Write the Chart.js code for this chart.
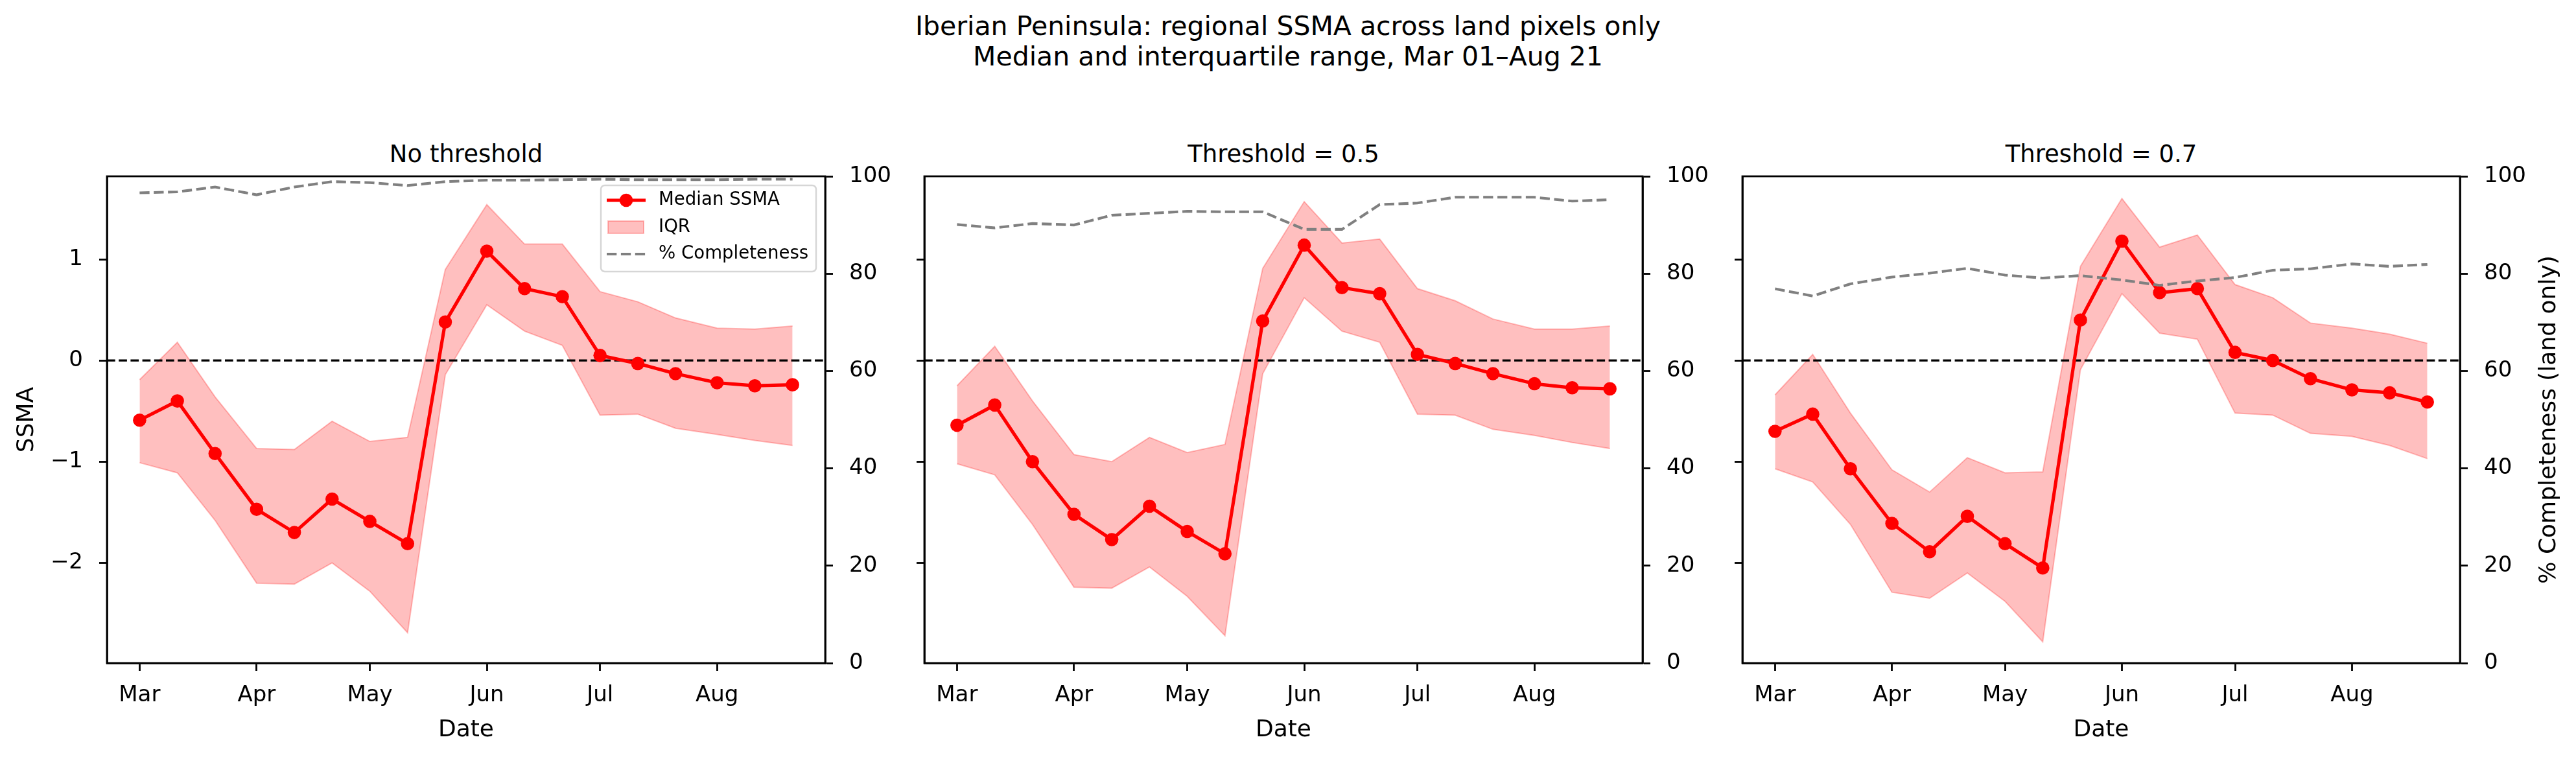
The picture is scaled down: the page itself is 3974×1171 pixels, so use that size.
<!DOCTYPE html>
<html>
<head>
<meta charset="utf-8">
<title>Iberian Peninsula SSMA</title>
<script src="https://cdn.jsdelivr.net/npm/chart.js@4.4.0/dist/chart.umd.min.js"></script>
<style>
  html, body { margin: 0; padding: 0; background: #fff; }
  body { width: 3974px; height: 1171px; position: relative; overflow: hidden; font-family: "DejaVu Sans", sans-serif; color: #000; }
  canvas { position: absolute; }
  .suptitle { position: absolute; left: 0; width: 3974px; top: 17px; text-align: center; font-size: 41px; line-height: 47px; }
  .ptitle { position: absolute; top: 216px; text-align: center; font-size: 37px; line-height: 44px; white-space: nowrap; }
</style>
</head>
<body>
<div class="suptitle">Iberian Peninsula: regional SSMA across land pixels only<br>Median and interquartile range, Mar 01–Aug 21</div>
<div class="ptitle" id="title0"></div>
<div class="ptitle" id="title1"></div>
<div class="ptitle" id="title2"></div>
<canvas id="chart0"></canvas>
<canvas id="chart1"></canvas>
<canvas id="chart2"></canvas>
<script>
// dekadal dates, Mar 01 .. Aug 21 (days counted from Mar 01)
const dateLabels = ['Mar 01', 'Mar 11', 'Mar 21', 'Apr 01', 'Apr 11', 'Apr 21', 'May 01', 'May 11', 'May 21',
                    'Jun 01', 'Jun 11', 'Jun 21', 'Jul 01', 'Jul 11', 'Jul 21', 'Aug 01', 'Aug 11', 'Aug 21'];
const days = [0, 10, 20, 31, 41, 51, 61, 71, 81, 92, 102, 112, 122, 132, 142, 153, 163, 173];

const monthTicks = [0, 31, 61, 92, 122, 153];
const monthLabels = ['Mar', 'Apr', 'May', 'Jun', 'Jul', 'Aug'];
const ssmaTicks = [-2, -1, 0, 1];
const ssmaTickLabels = ['\u22122', '\u22121', '0', '1'];
const pctTicks = [0, 20, 40, 60, 80, 100];

const panelTitles = ['No threshold', 'Threshold = 0.5', 'Threshold = 0.7'];

// No threshold
const medianNone = [-0.59, -0.40, -0.92, -1.47, -1.70, -1.37, -1.59, -1.81, 0.38, 1.08, 0.71, 0.63, 0.05, -0.03, -0.13, -0.22, -0.25, -0.24];
const q75None = [-0.19, 0.18, -0.36, -0.87, -0.88, -0.60, -0.80, -0.76, 0.90, 1.54, 1.15, 1.15, 0.68, 0.58, 0.42, 0.32, 0.31, 0.34];
const q25None = [-1.01, -1.11, -1.58, -2.20, -2.21, -2.00, -2.28, -2.69, -0.14, 0.55, 0.29, 0.15, -0.54, -0.53, -0.67, -0.73, -0.79, -0.84];
const pctNone = [96.6, 96.8, 97.8, 96.2, 97.8, 98.9, 98.7, 98.1, 98.9, 99.2, 99.2, 99.3, 99.4, 99.3, 99.3, 99.3, 99.4, 99.4];

// Threshold = 0.5
const median05 = [-0.64, -0.44, -1.00, -1.52, -1.77, -1.44, -1.69, -1.91, 0.39, 1.14, 0.72, 0.66, 0.06, -0.03, -0.13, -0.23, -0.27, -0.28];
const q75_05 = [-0.25, 0.14, -0.40, -0.93, -1.00, -0.76, -0.91, -0.83, 0.91, 1.57, 1.16, 1.20, 0.71, 0.59, 0.41, 0.31, 0.31, 0.34];
const q25_05 = [-1.02, -1.13, -1.62, -2.24, -2.25, -2.04, -2.33, -2.72, -0.13, 0.62, 0.29, 0.18, -0.53, -0.54, -0.68, -0.74, -0.81, -0.87];
const pct05 = [90.1, 89.4, 90.3, 90.0, 92.0, 92.4, 92.8, 92.7, 92.7, 89.1, 89.1, 94.2, 94.5, 95.7, 95.7, 95.7, 94.9, 95.2];

// Threshold = 0.7
const median07 = [-0.70, -0.53, -1.07, -1.61, -1.89, -1.54, -1.81, -2.05, 0.40, 1.18, 0.67, 0.71, 0.08, 0.00, -0.18, -0.29, -0.32, -0.41];
const q75_07 = [-0.34, 0.06, -0.52, -1.08, -1.30, -0.96, -1.11, -1.10, 0.93, 1.60, 1.12, 1.24, 0.75, 0.62, 0.37, 0.32, 0.26, 0.17];
const q25_07 = [-1.07, -1.20, -1.62, -2.29, -2.35, -2.10, -2.38, -2.78, -0.09, 0.66, 0.27, 0.21, -0.52, -0.54, -0.72, -0.75, -0.84, -0.97];
const pct07 = [76.9, 75.4, 77.9, 79.3, 80.1, 81.1, 79.7, 79.1, 79.6, 78.7, 77.6, 78.5, 79.2, 80.7, 81.0, 82.0, 81.5, 81.9];

// layout (px)
const FONT = 'DejaVu Sans';
const PLOT_TOP = 272, PLOT_BOTTOM = 1023;
const LEFT_W = 150, RIGHT_W = 160, BOTTOM_H = 148, PAD_TOP = 50;
const X_MIN = -8.65, X_MAX = 181.65;
const Y_MIN = -2.99, Y_MAX = 1.82;
const DASH = [15.3, 6.6];

const panels = [
  { left: 165, right: 1273, median: medianNone, q75: q75None, q25: q25None, pct: pctNone, first: true, last: false },
  { left: 1426, right: 2534, median: median05, q75: q75_05, q25: q25_05, pct: pct05, first: false, last: false },
  { left: 2688, right: 3795, median: median07, q75: q75_07, q25: q25_07, pct: pct07, first: false, last: true }
];

Chart.defaults.font.family = FONT;
Chart.defaults.color = '#000';

const pts = arr => days.map((d, i) => ({ x: d, y: arr[i] }));

const frame = {
  id: 'frame',
  afterDraw(chart) {
    const { ctx, chartArea: a } = chart;
    ctx.save();
    ctx.strokeStyle = '#000';
    ctx.lineWidth = 2.8;
    ctx.strokeRect(a.left, a.top, a.right - a.left, a.bottom - a.top);
    ctx.restore();
  }
};

const legendBox = {
  id: 'legendBox',
  afterDraw(chart) {
    if (!chart.options.plugins.legendBox.show) return;
    const { ctx, chartArea: a } = chart;
    const bx = a.right - 346, by = a.top + 14, bw = 332, bh = 133;
    ctx.save();
    ctx.beginPath();
    ctx.roundRect(bx, by, bw, bh, 6);
    ctx.fillStyle = 'rgba(255,255,255,0.8)';
    ctx.fill();
    ctx.strokeStyle = 'rgba(204,204,204,0.8)';
    ctx.lineWidth = 2.5;
    ctx.stroke();

    // median
    let y = by + 23;
    ctx.strokeStyle = '#ff0000';
    ctx.lineWidth = 5.2;
    ctx.beginPath(); ctx.moveTo(bx + 9, y); ctx.lineTo(bx + 69, y); ctx.stroke();
    ctx.fillStyle = '#ff0000';
    ctx.beginPath(); ctx.arc(bx + 39, y, 10.3, 0, Math.PI * 2); ctx.fill();

    // IQR
    ctx.fillStyle = 'rgba(255,0,0,0.25)';
    ctx.strokeStyle = 'rgba(255,0,0,0.25)';
    ctx.lineWidth = 2;
    ctx.fillRect(bx + 11, by + 55, 55, 19);
    ctx.strokeRect(bx + 11, by + 55, 55, 19);

    // completeness
    y = by + 106;
    ctx.strokeStyle = '#808080';
    ctx.lineWidth = 4.1;
    ctx.setLineDash(DASH);
    ctx.beginPath(); ctx.moveTo(bx + 9, y); ctx.lineTo(bx + 69, y); ctx.stroke();
    ctx.setLineDash([]);

    ctx.fillStyle = '#000';
    ctx.font = '27.6px "' + FONT + '"';
    ctx.textBaseline = 'middle';
    ctx.textAlign = 'left';
    ctx.fillText('Median SSMA', bx + 89, by + 23);
    ctx.fillText('IQR', bx + 89, by + 65);
    ctx.fillText('% Completeness', bx + 89, by + 106);
    ctx.restore();
  }
};

const rightTitle = {
  id: 'rightTitle',
  afterDraw(chart) {
    const text = chart.options.plugins.rightTitle.text;
    if (!text) return;
    const { ctx, chartArea: a } = chart;
    ctx.save();
    ctx.translate(a.right + 147, (a.top + a.bottom) / 2);
    ctx.rotate(-Math.PI / 2);
    ctx.fillStyle = '#000';
    ctx.font = '36px "' + FONT + '"';
    ctx.textAlign = 'center';
    ctx.textBaseline = 'alphabetic';
    ctx.fillText(text, 0, 0);
    ctx.restore();
  }
};

const tickFont = { size: 34, family: FONT };
const gridOpts = { drawOnChartArea: false, tickLength: 12, tickWidth: 2.8, tickColor: '#000', color: '#000' };
const borderOpts = { display: true, color: '#000', width: 2.8 };

panels.forEach((p, k) => {
  const t = document.getElementById('title' + k);
  t.textContent = panelTitles[k];
  t.style.left = p.left + 'px';
  t.style.width = (p.right - p.left) + 'px';

  const canvas = document.getElementById('chart' + k);
  const w = p.right - p.left + LEFT_W + RIGHT_W;
  const h = PAD_TOP + (PLOT_BOTTOM - PLOT_TOP) + BOTTOM_H;
  canvas.width = w;
  canvas.height = h;
  canvas.style.left = (p.left - LEFT_W) + 'px';
  canvas.style.top = (PLOT_TOP - PAD_TOP) + 'px';

  new Chart(canvas.getContext('2d'), {
    type: 'line',
    data: {
      datasets: [
        {
          label: '% Completeness', data: pts(p.pct), yAxisID: 'y2', order: 0,
          borderColor: '#808080', borderWidth: 4.1, borderDash: DASH, pointRadius: 0, fill: false, tension: 0
        },
        {
          label: 'Median SSMA', data: pts(p.median), yAxisID: 'y', order: 1,
          borderColor: '#ff0000', borderWidth: 5.2, borderJoinStyle: 'round',
          pointRadius: 10.3, pointBackgroundColor: '#ff0000', pointBorderWidth: 0, fill: false, tension: 0
        },
        {
          label: 'zero', data: [{ x: X_MIN, y: 0 }, { x: X_MAX, y: 0 }], yAxisID: 'y', order: 2,
          borderColor: '#000', borderWidth: 3.4, borderDash: [12.7, 5.5], pointRadius: 0, fill: false
        },
        {
          label: 'IQR', data: pts(p.q75), yAxisID: 'y', order: 3,
          borderColor: 'rgba(255,0,0,0.25)', borderWidth: 2, pointRadius: 0,
          backgroundColor: 'rgba(255,0,0,0.25)', fill: '+1', tension: 0
        },
        {
          label: 'IQR low', data: pts(p.q25), yAxisID: 'y', order: 4,
          borderColor: 'rgba(255,0,0,0.25)', borderWidth: 2, pointRadius: 0, fill: false, tension: 0
        }
      ]
    },
    options: {
      responsive: false,
      devicePixelRatio: 1,
      animation: false,
      events: [],
      layout: { padding: { top: PAD_TOP, left: 0, right: 0, bottom: 0 } },
      plugins: {
        legend: { display: false },
        tooltip: { enabled: false },
        legendBox: { show: p.first },
        rightTitle: { text: p.last ? '% Completeness (land only)' : '' }
      },
      scales: {
        x: {
          type: 'linear', min: X_MIN, max: X_MAX,
          afterBuildTicks: s => { s.ticks = monthTicks.map(v => ({ value: v })); },
          afterFit: s => { s.height = BOTTOM_H; },
          ticks: { autoSkip: false, maxRotation: 0, minRotation: 0, padding: 18, font: tickFont, color: '#000',
                   callback: (v, i) => monthLabels[i] },
          grid: gridOpts, border: borderOpts,
          title: { display: true, text: 'Date', color: '#000', font: { size: 36, family: FONT }, padding: { top: 0, bottom: 23 } }
        },
        y: {
          type: 'linear', position: 'left', min: Y_MIN, max: Y_MAX,
          afterBuildTicks: s => { s.ticks = ssmaTicks.map(v => ({ value: v })); },
          afterFit: s => { s.width = LEFT_W; },
          ticks: { display: p.first, padding: 25, font: tickFont, color: '#000',
                   callback: (v, i) => ssmaTickLabels[i] },
          grid: gridOpts, border: borderOpts,
          title: { display: p.first, text: 'SSMA', color: '#000', font: { size: 36, family: FONT }, padding: { top: 5, bottom: 0 } }
        },
        y2: {
          type: 'linear', position: 'right', min: 0, max: 100,
          afterBuildTicks: s => { s.ticks = pctTicks.map(v => ({ value: v })); },
          afterFit: s => { s.width = RIGHT_W; },
          ticks: { padding: 25, font: tickFont, color: '#000', callback: v => String(v) },
          grid: gridOpts, border: borderOpts
        }
      }
    },
    plugins: [frame, legendBox, rightTitle]
  });
});
</script>
</body>
</html>
